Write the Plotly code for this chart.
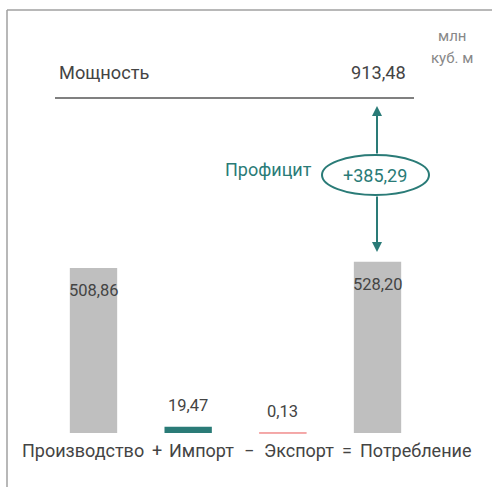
import plotly.graph_objects as go

# ---- data ----
categories = ["Производство", "Импорт", "Экспорт", "Потребление"]
values = [508.86, 19.47, 0.13, 528.20]
value_labels = ["508,86", "19,47", "0,13", "528,20"]
bar_colors = ["#bfbfbf", "#2a7b77", "#f08c8c", "#bfbfbf"]
signs = ["+", "−", "="]
capacity = 913.48
capacity_label = "Мощность"
capacity_text = "913,48"
surplus_label = "Профицит"
surplus_text = "+385,29"
unit_lines = ["млн", "куб. м"]

W, H = 492, 487
FONT = "Roboto"
TEAL = "#2a7b77"
DARK = "#444444"
GRAY = "#888888"

def px(x):
    return x / W

def py(y):
    return 1 - y / H

xpos = list(range(len(categories)))

fig = go.Figure()
fig.add_trace(go.Bar(
    x=xpos, y=values, width=0.5,
    marker=dict(color=bar_colors, line=dict(color=bar_colors, width=[0, 0, 1, 0])),
    hoverinfo="skip",
))

annotations = []
# value labels via data coordinates
for i, (v, t) in enumerate(zip(values, value_labels)):
    shift = -23 if v > 100 else 21
    annotations.append(dict(x=i, y=v, xref="x", yref="y", text=t, showarrow=False,
                            yanchor="middle", yshift=shift,
                            font=dict(family=FONT, size=16.5, color=DARK)))

# category labels and signs
cat_x = [82.5, 201, 298.5, 415]
for x, c in zip(cat_x, categories):
    annotations.append(dict(x=px(x), y=py(450), xref="paper", yref="paper", text=c,
                            showarrow=False, xanchor="center", yanchor="middle",
                            font=dict(family=FONT, size=18, color=DARK)))
sign_x = [157, 249, 347]
for x, s in zip(sign_x, signs):
    annotations.append(dict(x=px(x), y=py(450), xref="paper", yref="paper", text=s,
                            showarrow=False, xanchor="center", yanchor="middle",
                            font=dict(family=FONT, size=18, color=DARK)))

# capacity texts
annotations.append(dict(x=px(57), y=py(73), xref="paper", yref="paper", text=capacity_label,
                        showarrow=False, xanchor="left", yanchor="middle",
                        font=dict(family=FONT, size=18.2, color=DARK)))
annotations.append(dict(x=px(408), y=py(73), xref="paper", yref="paper", text=capacity_text,
                        showarrow=False, xanchor="right", yanchor="middle",
                        font=dict(family=FONT, size=18.2, color=DARK)))
# units
for yy, t in zip([36, 58], unit_lines):
    annotations.append(dict(x=px(452), y=py(yy), xref="paper", yref="paper", text=t,
                            showarrow=False, xanchor="center", yanchor="middle",
                            font=dict(family=FONT, size=15, color=GRAY)))
# surplus
annotations.append(dict(x=px(314), y=py(170), xref="paper", yref="paper", text=surplus_label,
                        showarrow=False, xanchor="right", yanchor="middle",
                        font=dict(family=FONT, size=18, color=TEAL)))
annotations.append(dict(x=px(375), y=py(175), xref="paper", yref="paper", text=surplus_text,
                        showarrow=False, xanchor="center", yanchor="middle",
                        font=dict(family=FONT, size=18, color=TEAL)))
# arrows
annotations.append(dict(x=px(377), y=py(106), xref="paper", yref="paper", text="",
                        showarrow=True, ax=0, ay=49, arrowhead=2, arrowsize=1,
                        arrowwidth=2, arrowcolor=TEAL))
annotations.append(dict(x=px(377), y=py(252), xref="paper", yref="paper", text="",
                        showarrow=True, ax=0, ay=-57, arrowhead=2, arrowsize=1,
                        arrowwidth=2, arrowcolor=TEAL))

shapes = [
    # frame
    dict(type="line", xref="paper", yref="paper", x0=px(7), x1=px(7), y0=py(H + 2), y1=py(10),
         line=dict(color="#a0a0a0", width=1.5)),
    dict(type="line", xref="paper", yref="paper", x0=px(7), x1=px(W + 2), y0=py(10), y1=py(10),
         line=dict(color="#a0a0a0", width=1.5)),
    # capacity line
    dict(type="line", xref="paper", yref="paper", x0=px(55), x1=px(414), y0=py(98), y1=py(98),
         line=dict(color="#808080", width=2)),
    # ellipse
    dict(type="circle", xref="paper", yref="paper", x0=px(322), x1=px(429), y0=py(195), y1=py(155),
         line=dict(color=TEAL, width=2), fillcolor="rgba(0,0,0,0)"),
]

baseline_px = 433.0
scale = 171.3 / values[3]  # px per unit
y_top = baseline_px / scale
y_bot = -(H - baseline_px) / scale
center0 = 93.5
spacing = 94.67
x_left = -center0 / spacing
x_right = (W - center0) / spacing

fig.update_layout(
    width=W, height=H,
    margin=dict(l=0, r=0, t=0, b=0),
    paper_bgcolor="white", plot_bgcolor="white",
    showlegend=False,
    xaxis=dict(range=[x_left, x_right], visible=False, fixedrange=True),
    yaxis=dict(range=[y_bot, y_top], visible=False, fixedrange=True),
    annotations=annotations,
    shapes=shapes,
)

fig.write_html("out.html", config={"displayModeBar": False},
               post_script="document.body.style.margin='0';document.body.style.overflow='hidden';")
